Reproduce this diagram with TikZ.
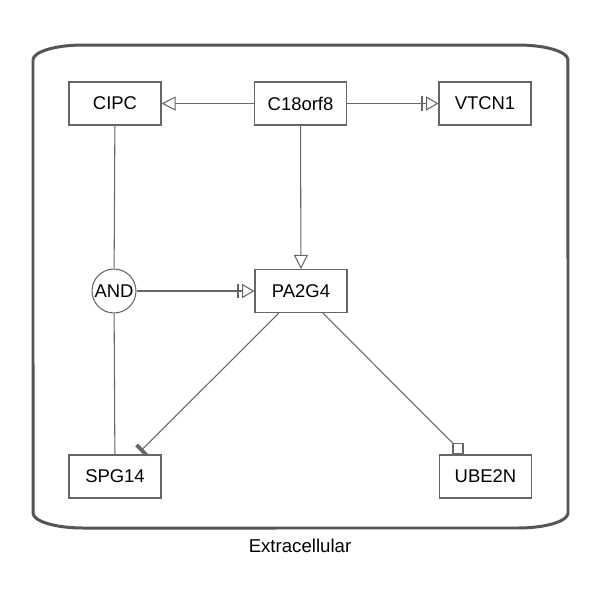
\documentclass[tikz,border=0pt]{standalone}
\usepackage{fontspec}
\setmainfont{Liberation Sans}
\usepackage{xcolor}
\usetikzlibrary{arrows.meta}
\definecolor{edgegray}{HTML}{666666}
\definecolor{compgray}{HTML}{555555}
\tikzset{gene/.style={draw=edgegray, line width=0.6pt, minimum width=1.84cm, minimum height=0.86cm, inner sep=0pt, font=\fontsize{10.5}{12}\selectfont},
 logic/.style={draw=edgegray, line width=0.6pt, circle, minimum size=0.88cm, inner sep=0pt, font=\fontsize{10.5}{12}\selectfont},
 link/.style={draw=edgegray, line width=0.6pt},
 stim/.style={link, -{Triangle[open, length=8pt, width=8pt]}},
 nstim/.style={link, -{Bar[width=8pt, line width=1pt, sep=2pt]Triangle[open, length=7pt, width=8pt]}},
 inhib/.style={link, -{Bar[width=8pt, line width=2.2pt]}, shorten >=2.5pt},
 catbox/.style={draw=edgegray, line width=0.6pt, minimum size=0.2cm, inner sep=0pt},
 }

\begin{document}
\begin{tikzpicture}[x=0.02cm, y=-0.02cm]
        \useasboundingbox (0, 0) rectangle (600, 600);
        % compartment
        \draw[compgray, line width=1.7pt] (33, 60) arc[start angle=180, end angle=90, x radius=1cm, y radius=0.3cm]
            -- (518, 45) arc[start angle=90, end angle=0, x radius=1cm, y radius=0.3cm]
            -- (568, 513) arc[start angle=0, end angle=-90, x radius=1cm, y radius=0.3cm]
            -- (83, 528) arc[start angle=-90, end angle=-180, x radius=1cm, y radius=0.3cm] -- cycle;
        \node[font=\fontsize{10.6}{12}\selectfont] (extra) at (300, 546) {Extracellular};
        
        % genes
        \node[gene] (cipc) at (115, 103.5) {CIPC};
        \node[gene] (c18) at (300.5, 103.5) {C18orf8};
        \node[gene] (vtcn) at (485, 103.5) {VTCN1};
        \node[logic] (and) at (114, 291) {AND};
        \node[gene] (pa2g4) at (301, 291) {PA2G4};
        \node[gene] (spg) at (115, 476.5) {SPG14};
        \node[gene] (ube) at (485.5, 476.5) {UBE2N};
        \node[catbox] (ubecat) at (458, 448.5) {};
        
        % links
        \draw[stim] (c18) -- (cipc);
        \draw[nstim] (c18) -- (vtcn);
        \draw[stim] (c18) -- (pa2g4);
        \draw[link] (cipc) -- (and);
        \draw[link] (and) -- (spg);
        \draw[nstim] (and) -- (pa2g4);
        \draw[inhib] (pa2g4) -- (spg);
        \draw[link] (pa2g4) -- (ubecat);
    \end{tikzpicture}
\end{document}
